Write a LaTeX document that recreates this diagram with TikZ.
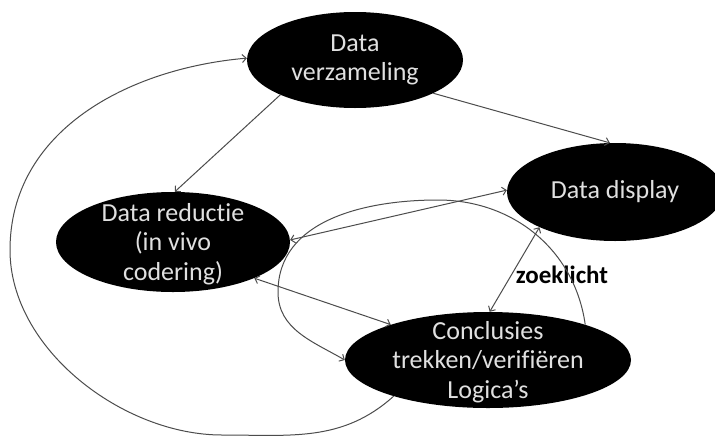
\documentclass[tikz,border=0pt]{standalone}
\usepackage{fontspec}
\setmainfont{Carlito}[Ligatures=NoCommon]
\usetikzlibrary{shapes.geometric,arrows.meta}
\begin{document}
\begin{tikzpicture}[x=1pt,y=1pt,
  blob/.style={ellipse,fill=black,draw=none,inner sep=0pt},
  txt/.style={text=white!88!black,align=center,inner sep=0pt,font=\fontsize{26}{29.5}\selectfont},
  tip/.tip={Straight Barb[length=4pt,width=8pt]},
  con/.style={draw=black!70,line width=1pt,-tip},
  dbl/.style={draw=black!70,line width=1pt,tip-tip}]
\useasboundingbox (0,0) rectangle (715,-437);
\clip (0,0) rectangle (715,-437);
\fill[white] (0,0) rectangle (715,-437);

\node[blob,minimum width=216pt,minimum height=96pt] (V) at (355,-60) {};
\node[blob,minimum width=216pt,minimum height=98pt] (D) at (615,-192) {};
\node[blob,minimum width=234pt,minimum height=100pt] (R) at (173,-242) {};
\node[blob,minimum width=286pt,minimum height=96pt] (C) at (488,-360) {};

\node[txt] (Vt) at (V) {Data\\verzameling};
\node[txt] (Dt) at (D) {Data display};
\node[txt] (Rt) at (173,-244) {Data reduct\kern0pt ie\\(in vivo\\codering)};
\node[txt] (Ct) at (488,-362) {Conclusies\\trekken/verifiëren\\Logica’s};

\node[font=\bfseries\fontsize{25}{30}\selectfont,inner sep=0pt] (Z) at (562,-275) {zoeklicht};

\draw[con] (V.205) -- (R.88);
\draw[con] (V.337) -- (D.96);
\draw[dbl] (R.1) -- (D.179);
\draw[dbl] (R.336) -- (C.160);
\draw[dbl] (D.205) -- (C.88);

\coordinate (b1) at (222,-435);
\coordinate (b2) at (10,-250);
\draw[con] (C.201) to[out=222,in=0] (b1) to[out=180,in=270,looseness=0.9] (b2) to[out=90,in=185] (V.179);

\coordinate (a1) at (438,-200);
\coordinate (a2) at (278,-292);
\draw[con] (C.20) to[out=98,in=0] (a1) to[out=180,in=90] (a2) to[out=270,in=150] (C.180);
\end{tikzpicture}
\end{document}
